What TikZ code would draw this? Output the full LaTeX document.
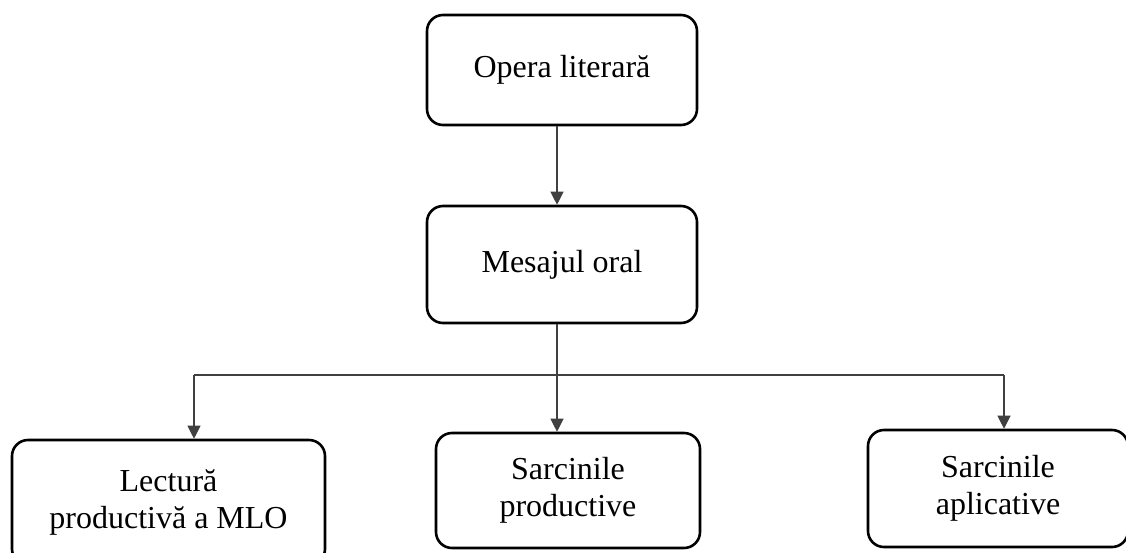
\documentclass[tikz,border=0pt]{standalone}
\usepackage{fontspec}
\setmainfont{Liberation Serif}
\usetikzlibrary{arrows.meta}
\begin{document}
\begin{tikzpicture}[x=1pt,y=-1pt,
  box/.style={draw=black, line width=2.6pt, rounded corners=16pt, inner sep=0pt,
    align=center, font=\fontsize{32}{37}\selectfont, anchor=center},
  conn/.style={draw=black!75, line width=1.1pt},
  arr/.style={conn, -{Triangle[width=13pt,length=13pt]}}]
\useasboundingbox (0,0) rectangle (1126,552);
\fill[white] (0,0) rectangle (1126,552);
\clip (0,0) rectangle (1126,552);
\node[box, minimum width=270pt, minimum height=110pt] (op) at (562,70) {Opera literară};
\node[box, minimum width=270pt, minimum height=117pt] (m) at (562,264.5) {Mesajul oral};
\node[box, minimum width=313pt, minimum height=125pt] (lec) at (168.5,502.5) {Lectură\\productivă a MLO};
\node[box, minimum width=264pt, minimum height=115pt] (prod) at (568,490.5) {Sarcinile\\productive};
\node[box, minimum width=260pt, minimum height=117pt] (apl) at (998,488.5) {Sarcinile\\aplicative};
\coordinate (jl) at (194,375);
\coordinate (jm) at (557,375);
\coordinate (jr) at (1004,375);
\draw[arr] ([xshift=-5pt]op.south) -- ([xshift=-5pt]m.north);
\draw[conn] ([xshift=-5pt]m.south) -- (jm);
\draw[conn] (jl) -- (jr);
\draw[arr] (jl) -- (jl |- lec.north);
\draw[arr] (jm) -- (jm |- prod.north);
\draw[arr] (jr) -- (jr |- apl.north);
\end{tikzpicture}
\end{document}
